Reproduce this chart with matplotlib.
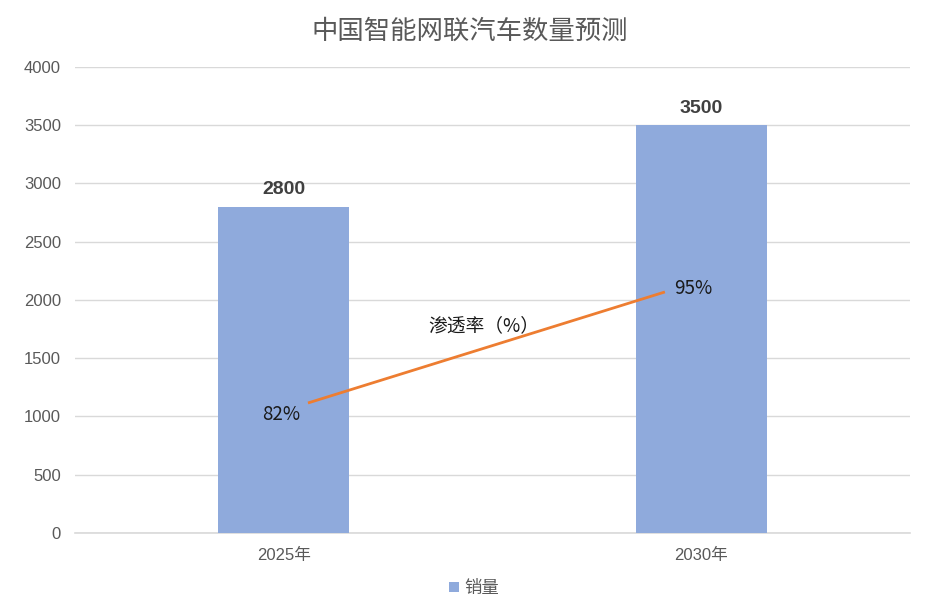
import matplotlib
matplotlib.use("Agg")
import matplotlib.pyplot as plt
import numpy as np

plt.rcParams['font.family'] = ['Liberation Sans', 'Noto Sans CJK SC', 'DejaVu Sans']

years = ['2025年', '2030年']
sales = [2800, 3500]
rate = [82, 95]
rate_labels = ['82%', '95%']

bar_color = '#8FAADC'
line_color = '#ED7D31'
text_gray = '#595959'
cjk = ['Noto Sans CJK SC', 'DejaVu Sans']

fig = plt.figure(figsize=(9.26, 6.09), dpi=100)
ax = fig.add_axes([0.081, 0.1248, 0.9017, 0.7652])

x = np.arange(len(years))
bars = ax.bar(x, sales, width=0.314, color=bar_color, label='销量', zorder=2)
for xi, v in zip(x, sales):
  ax.text(xi, v + 75, str(v), ha='center', va='bottom', fontsize=14,
          fontweight='bold', color='#404040')

ax.set_xlim(-0.5, 1.5)
ax.set_ylim(0, 4000)
ax.set_yticks(np.arange(0, 4001, 500))
ax.set_xticks(x)
ax.set_xticklabels(years)
ax.tick_params(axis='both', length=0, labelsize=12, colors=text_gray)
ax.tick_params(axis='y', pad=10)
ax.tick_params(axis='x', pad=11)
ax.grid(axis='y', color='#d9d9d9', linewidth=1, zorder=0)
ax.axhline(0, color='#d9d9d9', linewidth=1.2, zorder=1, clip_on=False)
for s in ax.spines.values():
  s.set_visible(False)

# penetration rate on a hidden secondary scale
ax2 = ax.twinx()
scale = (2069 - 1116) / (rate[1] - rate[0])
lo = rate[0] - 1116 / scale
ax2.set_ylim(lo, lo + 4000 / scale)
ax2.axis('off')
lx = [x[0] + 0.058, x[1] - 0.087]
ax2.plot(lx, rate, color=line_color, linewidth=2, solid_capstyle='butt', zorder=3)
ax2.text(x[0] - 0.006, rate[0] - 1.3, rate_labels[0], ha='center', va='center',
         fontsize=13.5, color='#1a1a1a', family=cjk)
ax2.text(x[1] - 0.018, rate[1] + 0.4, rate_labels[1], ha='center', va='center',
         fontsize=13.5, color='#1a1a1a', family=cjk)
ax2.text(0.48, 91.0, '渗透率（%）', ha='center', va='center', fontsize=13.5,
         color='#1a1a1a', family=cjk)

fig.suptitle('中国智能网联汽车数量预测', x=0.507, y=0.97, fontsize=19, color=text_gray,
             family=cjk)

ax.legend(loc='upper center', bbox_to_anchor=(0.478, -0.065), frameon=False,
          handlelength=0.55, handleheight=0.55, handletextpad=0.3,
          labelcolor=text_gray, prop={'family': cjk, 'size': 12.5})

fig.savefig('out.png', dpi=100)
